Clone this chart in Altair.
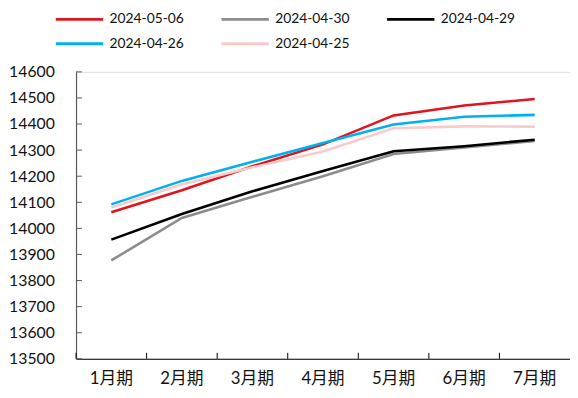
import altair as alt
import pandas as pd

months = ["1月期", "2月期", "3月期", "4月期", "5月期", "6月期", "7月期"]
series_names = ["2024-05-06", "2024-04-30", "2024-04-29", "2024-04-26", "2024-04-25"]
colors = ["#E0141C", "#8C8C8C", "#000000", "#00B0F0", "#F8CBCB"]

v_0506 = [14062, 14146, 14238, 14322, 14433, 14471, 14496]
v_0430 = [13877, 14040, 14121, 14200, 14285, 14310, 14335]
v_0429 = [13957, 14055, 14142, 14220, 14296, 14315, 14340]
v_0426 = [14092, 14182, 14255, 14327, 14398, 14428, 14435]
v_0425 = [14080, 14168, 14234, 14295, 14384, 14391, 14390]

y_ticks = list(range(13500, 14601, 100))

rows = []
for name, vals in zip(series_names, [v_0506, v_0430, v_0429, v_0426, v_0425]):
    for m, v in zip(months, vals):
        rows.append({"month": m, "value": v, "series": name})
df = pd.DataFrame(rows)

FONT = "Lato, Noto Sans CJK SC, sans-serif"

xscale = alt.Scale(type="band", domain=months, paddingInner=0, paddingOuter=0)
yscale = alt.Scale(domain=[13500, 14600], nice=False, zero=False)

xaxis = alt.Axis(title=None, ticks=False, labelAngle=0, labelFontSize=17,
                 labelFont=FONT, labelColor="#111111", labelPadding=12,
                 domainColor="#000000", domainWidth=1.2)
yaxis = alt.Axis(title=None, values=y_ticks, ticks=False, grid=False,
                 format="d", labelOverlap=False,
                 labelFontSize=16, labelFont=FONT, labelColor="#111111",
                 labelPadding=22, domainColor="#595959", domainWidth=1.2)

lines = alt.Chart(df).mark_line(strokeWidth=2.6).encode(
    x=alt.X("month:N", sort=months, scale=xscale, bandPosition=0.5, axis=xaxis),
    y=alt.Y("value:Q", scale=yscale, axis=yaxis),
    color=alt.Color("series:N", scale=alt.Scale(domain=series_names, range=colors),
                    sort=series_names,
                    legend=alt.Legend(title=None, orient="none", legendX=-22, legendY=-61,
                                      direction="horizontal", columns=3,
                                      symbolType="M-1,0H7", symbolSize=144,
                                      symbolStrokeWidth=3, labelFontSize=14,
                                      labelFont=FONT, labelColor="#111111",
                                      labelOffset=41, columnPadding=31, rowPadding=10)),
    order=alt.Order("series:N"),
)

xt = pd.DataFrame({"month": months})
xticks = alt.Chart(xt).mark_rule(color="#000000", strokeWidth=1).encode(
    x=alt.X("month:N", sort=months, scale=xscale, bandPosition=0, axis=xaxis),
    y=alt.value(291), y2=alt.value(285),
)

yt = pd.DataFrame({"v": y_ticks})
yticks = alt.Chart(yt).mark_rule(color="#595959", strokeWidth=1).encode(
    y=alt.Y("v:Q", scale=yscale, axis=yaxis),
    x=alt.value(0), x2=alt.value(6),
)

chart = alt.layer(lines, xticks, yticks).properties(
    width=501, height=291,
    autosize="none",
    padding={"left": 69, "top": 62, "right": 0, "bottom": 37},
).configure_view(stroke=None).configure(background="white")

chart.save("out.html", embed_options={"renderer": "svg", "actions": False})
